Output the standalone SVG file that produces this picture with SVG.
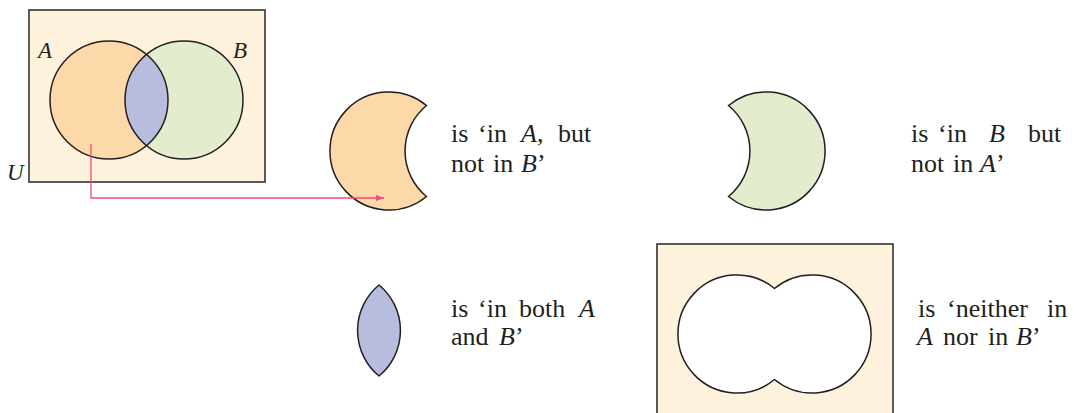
<svg xmlns="http://www.w3.org/2000/svg" width="1077" height="413" viewBox="0 0 1077 413">
<defs>
<style>
.box{fill:#FEF2DC;stroke:#333;stroke-width:1.6}
.ln{fill:none;stroke:#231F20;stroke-width:1.5}
.or{fill:#FDD8A8;stroke:#231F20;stroke-width:1.5}
.gr{fill:#E3EDCE;stroke:#231F20;stroke-width:1.5}
.bl{fill:#B8BCDD;stroke:#231F20;stroke-width:1.5}
.wh{fill:#FFFFFF;stroke:#231F20;stroke-width:1.5}
</style>
<marker id="ah" markerWidth="8" markerHeight="6" refX="8" refY="3" orient="auto" markerUnits="userSpaceOnUse">
<path d="M0,0 L8,3 L0,6 Z" fill="#EE4A7E"/>
</marker>
</defs>
<g id="venn">
<rect class="box" x="29" y="10" width="236" height="172"/>
<circle cx="109" cy="100" r="59" fill="#FDD8A8"/>
<circle cx="184" cy="100" r="59" fill="#E3EDCE"/>
<path d="M146.5,54.5 A59,59 0 0 0 146.5,145.5 A59,59 0 0 0 146.5,54.5 Z" fill="#B8BCDD"/>
<circle class="ln" cx="109" cy="100" r="59"/>
<circle class="ln" cx="184" cy="100" r="59"/>
<text font-family="Liberation Serif" font-size="23" font-style="italic" fill="#231F20" x="38" y="58">A</text>
<text font-family="Liberation Serif" font-size="23" font-style="italic" fill="#231F20" x="233" y="58">B</text>
<text font-family="Liberation Serif" font-size="23" font-style="italic" fill="#231F20" x="7" y="180">U</text>
</g>
<g id="a-not-b" font-family="Liberation Serif" font-size="26" fill="#231F20">
<path class="or" d="M426.5,105.5 A59,59 0 1 0 426.5,196.5 A59,59 0 0 1 426.5,105.5 Z"/>
<text y="142"><tspan x="451">is</tspan><tspan x="478">‘in</tspan><tspan x="521" font-style="italic">A</tspan><tspan>,</tspan><tspan x="558">but</tspan></text>
<text y="172"><tspan x="451">not</tspan><tspan x="493">in</tspan><tspan x="521" font-style="italic">B</tspan><tspan>’</tspan></text>
</g>
<g id="b-not-a" font-family="Liberation Serif" font-size="26" fill="#231F20">
<path class="gr" d="M728.5,105.5 A59,59 0 1 1 728.5,196.5 A59,59 0 0 0 728.5,105.5 Z"/>
<text y="142"><tspan x="911">is</tspan><tspan x="938">‘in</tspan><tspan x="989" font-style="italic">B</tspan><tspan x="1028">but</tspan></text>
<text y="172"><tspan x="911">not</tspan><tspan x="953">in</tspan><tspan x="980" font-style="italic">A</tspan><tspan>’</tspan></text>
</g>
<g id="both" font-family="Liberation Serif" font-size="26" fill="#231F20">
<path class="bl" d="M379,285 A59,59 0 0 0 379,376 A59,59 0 0 0 379,285 Z"/>
<text y="317"><tspan x="451">is</tspan><tspan x="478">‘in</tspan><tspan x="519">both</tspan><tspan x="579" font-style="italic">A</tspan></text>
<text y="345"><tspan x="451">and</tspan><tspan x="499" font-style="italic">B</tspan><tspan>’</tspan></text>
</g>
<g id="neither" font-family="Liberation Serif" font-size="26" fill="#231F20">
<rect class="box" x="657" y="244" width="236" height="172"/>
<path class="wh" d="M774.5,288.5 A59,59 0 1 0 774.5,379.5 A59,59 0 1 0 774.5,288.5 Z"/>
<text y="317"><tspan x="918">is</tspan><tspan x="947">‘neither</tspan><tspan x="1047">in</tspan></text>
<text y="345"><tspan x="917" font-style="italic">A</tspan><tspan x="943">nor</tspan><tspan x="988">in</tspan><tspan x="1016" font-style="italic">B</tspan><tspan>’</tspan></text>
</g>
<g id="connectors">
<polyline points="91,144 91,198 384,198" fill="none" stroke="#EE4A7E" stroke-width="1.3" marker-end="url(#ah)"/>
</g>
</svg>
